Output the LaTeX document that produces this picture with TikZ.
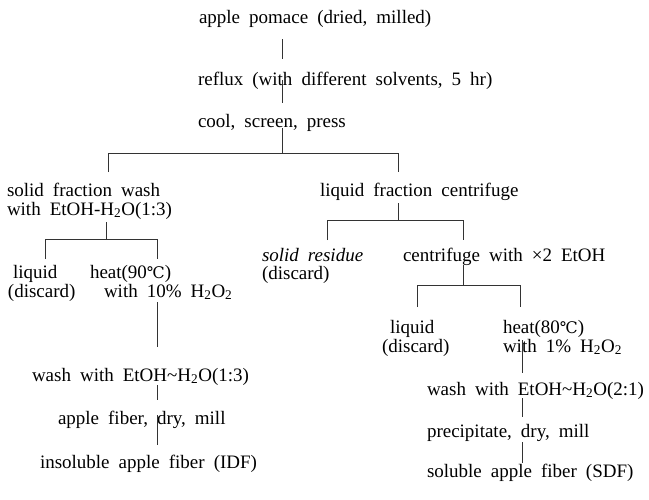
\documentclass[tikz,border=0pt]{standalone}
\usepackage{fontspec}
\setmainfont{Liberation Serif}[WordSpace=1.9]
\newfontfamily\degfont{DejaVu Serif}
\newcommand{\degC}{{\degfont\fontsize{16}{16}\selectfont ℃}}
\newcommand{\HtwoO}{H\textsubscript{2}O}
\begin{document}
\begin{tikzpicture}[x=1pt,y=-1pt,
  lbl/.style={anchor=base west,inner sep=0pt,outer sep=0pt,
    font=\fontsize{19}{20}\selectfont},
  link/.style={draw=black!80,line width=0.8pt}]
\useasboundingbox (0,0) rectangle (649,499);

% main stem
\node[lbl] (t1) at (199,23) {apple pomace (dried, milled)};
\node[lbl] (t2) at (198,85) {reflux (with different solvents, 5 hr)};
\node[lbl] (t3) at (198,127) {cool, screen, press};

% solid fraction branch
\node[lbl] (l1a) at (7,196) {solid fraction wash};
\node[lbl] (l1b) at (7,215) {with EtOH-\HtwoO(1:3)};
\node[lbl] (l2a) at (13,278) {liquid};
\node[lbl] (l2b) at (8,297) {(discard)};
\node[lbl] (l3a) at (90,278) {heat(90\degC)};
\node[lbl] (l3b) at (104,297) {with 10\% H\textsubscript{2}O\textsubscript{2}};
\node[lbl] (l4) at (32,381) {wash with EtOH\textasciitilde\HtwoO(1:3)};
\node[lbl] (l5) at (58,424) {apple fiber, dry, mill};
\node[lbl] (l6) at (40,468) {insoluble apple fiber (IDF)};

% liquid fraction branch
\node[lbl] (r1) at (320,196) {liquid fraction centrifuge};
\node[lbl,font=\fontsize{19}{20}\selectfont\itshape] (r2a) at (262,261) {solid residue};
\node[lbl] (r2b) at (262,279) {(discard)};
\node[lbl] (r3) at (403,261) {centrifuge with ×2 EtOH};
\node[lbl] (r4a) at (390,333) {liquid};
\node[lbl] (r4b) at (382,352) {(discard)};
\node[lbl] (r5a) at (503,333) {heat(80\degC)};
\node[lbl] (r5b) at (503,352) {with 1\% H\textsubscript{2}O\textsubscript{2}};
\node[lbl] (r6) at (427,395) {wash with EtOH\textasciitilde\HtwoO(2:1)};
\node[lbl] (r7) at (427,437) {precipitate, dry, mill};
\node[lbl] (r8) at (427,477) {soluble apple fiber (SDF)};

% connector end points
\coordinate (s1) at (282,39);  \coordinate (s2) at (282,59);
\coordinate (s3) at (282,80);  \coordinate (s4) at (282,103);
\coordinate (s5) at (282,128); \coordinate (s6) at (282,153);
\coordinate (hL) at (108,153); \coordinate (hR) at (398,153);
\coordinate (dL) at (108,172); \coordinate (dR) at (398,172);

\coordinate (a1) at (106,222); \coordinate (a2) at (106,239);
\coordinate (aL) at (45,239);  \coordinate (aR) at (157,239);
\coordinate (aLd) at (45,259); \coordinate (aRd) at (157,259);
\coordinate (b1) at (157,302); \coordinate (b2) at (157,347);
\coordinate (b3) at (157,385); \coordinate (b4) at (157,400);
\coordinate (b5) at (157,415); \coordinate (b6) at (157,445);

\coordinate (c1) at (398,203); \coordinate (c2) at (398,220);
\coordinate (cL) at (327,220); \coordinate (cR) at (463,220);
\coordinate (cLd) at (327,240); \coordinate (cRd) at (463,240);
\coordinate (e1) at (463,265); \coordinate (e2) at (463,285);
\coordinate (eL) at (417,285); \coordinate (eR) at (520,285);
\coordinate (eLd) at (417,307); \coordinate (eRd) at (520,307);
\coordinate (f1) at (522,340); \coordinate (f2) at (522,373);
\coordinate (f3) at (522,398); \coordinate (f4) at (522,417);
\coordinate (f5) at (522,442); \coordinate (f6) at (522,463);

% connectors
\path[link] (s1) -- (s2) (s3) -- (s4) (s5) -- (s6);
\path[link] (dL) -- (hL) -- (hR) -- (dR);

\path[link] (a1) -- (a2);
\path[link] (aLd) -- (aL) -- (aR) -- (aRd);
\path[link] (b1) -- (b2) (b3) -- (b4) (b5) -- (b6);

\path[link] (c1) -- (c2);
\path[link] (cLd) -- (cL) -- (cR) -- (cRd);
\path[link] (e1) -- (e2);
\path[link] (eLd) -- (eL) -- (eR) -- (eRd);
\path[link] (f1) -- (f2) (f3) -- (f4) (f5) -- (f6);
\end{tikzpicture}
\end{document}
